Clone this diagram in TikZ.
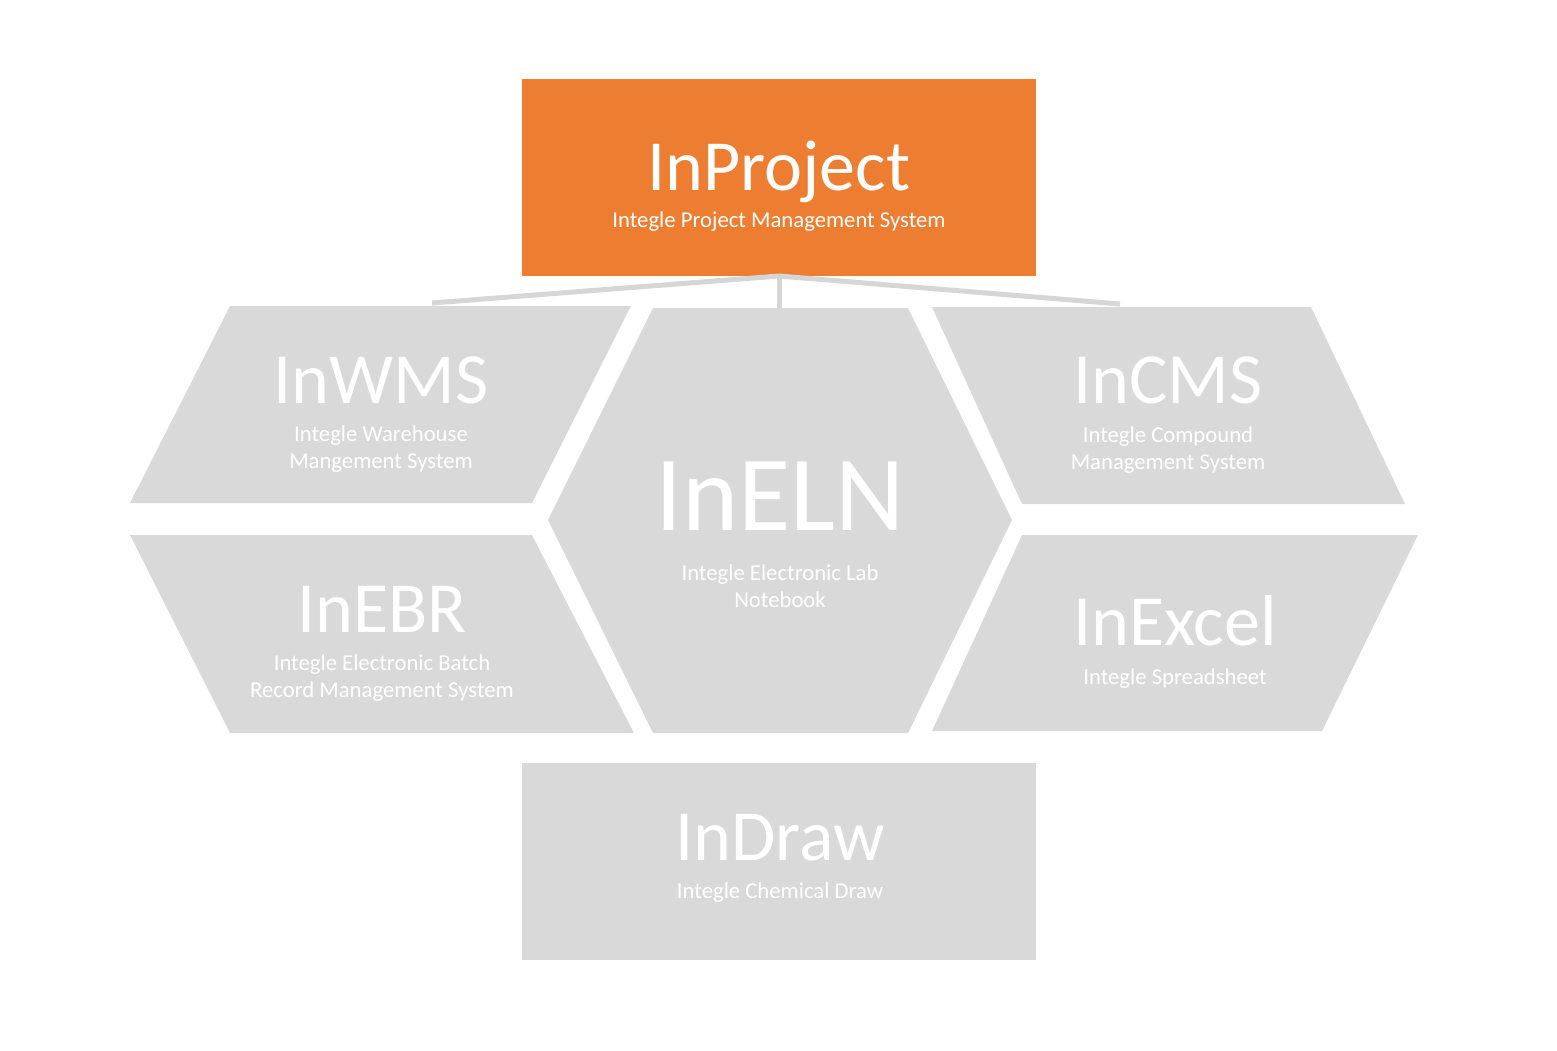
\documentclass[tikz,border=0pt]{standalone}
\usepackage{fontspec}
\setmainfont{Carlito}
\definecolor{orng}{HTML}{ED7D31}
\definecolor{gry}{HTML}{D9D9D9}
\definecolor{lnk}{HTML}{D6D6D6}
\begin{document}
\begin{tikzpicture}[x=1pt,y=-1pt,
  panel/.style={fill=gry},
  title/.style={text=white,anchor=base,inner sep=0pt,font=\fontsize{72}{72}\selectfont},
  bigtitle/.style={text=white,anchor=base,inner sep=0pt,font=\fontsize{107}{107}\selectfont},
  sub/.style={text=white,anchor=base,inner sep=0pt,align=center,font=\fontsize{22.7}{27}\selectfont},
  link/.style={draw=lnk,line width=5pt}]
\useasboundingbox[fill=white] (0,0) rectangle (1557,1050);

% shapes
\node[fill=orng,minimum width=514pt,minimum height=197pt,inner sep=0pt,anchor=north west] (proj) at (522,79) {};
\node[panel,minimum width=514pt,minimum height=197pt,inner sep=0pt,anchor=north west] (draw) at (522,763) {};
\path[panel] (230,306) -- (631,306) -- (532,503) -- (130,503) -- cycle;
\path[panel] (130,535) -- (532,535) -- (634,733) -- (230,733) -- cycle;
\path[panel] (653,308) -- (908,308) -- (1012,520) -- (908,733) -- (653,733) -- (548,520) -- cycle;
\path[panel] (932,307) -- (1311,307) -- (1405,504) -- (1022,504) -- cycle;
\path[panel] (1022,535) -- (1418,535) -- (1322,731) -- (932,731) -- cycle;

% connector ends
\coordinate (hub) at (779,276);
\coordinate (wmsTop) at (432,303);
\coordinate (elnTop) at (779,308);
\coordinate (cmsTop) at (1120,304);
\draw[link] (hub) -- (wmsTop);
\draw[link] (hub) -- (elnTop);
\draw[link] (hub) -- (cmsTop);

% texts (two-line subtitles are placed at the baseline of their last line)
\node[title] (projT) at (779,190) {InProject};
\node[sub] (projS) at (779,227) {Integle Project Management System};

\node[title] (wmsT) at (381,403) {InWMS};
\node[sub] (wmsS) at (381,468) {Integle Warehouse\\Mangement System};

\node[title] (cmsT) at (1168,403) {InCMS};
\node[sub] (cmsS) at (1168,469) {Integle Compound\\Management System};

\node[bigtitle] (elnT) at (780,530) {InELN};
\node[sub] (elnS) at (780,607) {Integle Electronic Lab\\Notebook};

\node[title] (ebrT) at (382,632) {InEBR};
\node[sub] (ebrS) at (382,697) {Integle Electronic Batch\\Record Management System};

\node[title] (excT) at (1175,645) {InExcel};
\node[sub] (excS) at (1175,684) {Integle Spreadsheet};

\node[title] (drwT) at (780,860) {InDraw};
\node[sub] (drwS) at (780,898) {Integle Chemical Draw};
\end{tikzpicture}
\end{document}
